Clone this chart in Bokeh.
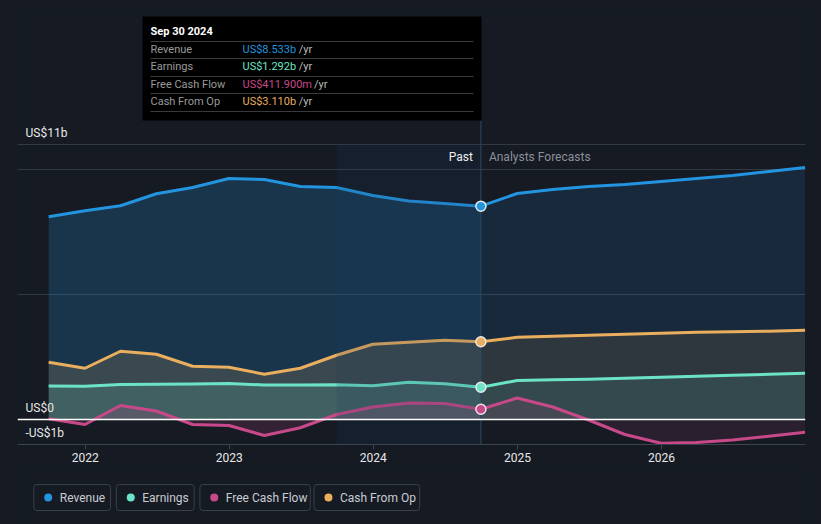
import pandas as pd
from bokeh.plotting import figure
from bokeh.layouts import column
from bokeh.models import Range1d, FixedTicker, Span, DatetimeTickFormatter
from bokeh.core.properties import value
from bokeh.embed import file_html
from bokeh.resources import INLINE

# ---------------- data (US$ billions) ----------------
past_dates = ["2021-09-30", "2021-12-31", "2022-03-31", "2022-06-30", "2022-09-30",
              "2022-12-31", "2023-03-31", "2023-06-30", "2023-09-30", "2023-12-31",
              "2024-03-31", "2024-06-30", "2024-09-30"]
forecast_dates = ["2024-09-30", "2024-12-31", "2025-03-31", "2025-06-30", "2025-09-30",
                  "2025-12-31", "2026-03-31", "2026-06-30", "2026-09-30", "2026-12-31"]

revenue_past = [8.11, 8.35, 8.55, 9.03, 9.28, 9.64, 9.60, 9.32, 9.28, 8.96, 8.74, 8.64, 8.533]
revenue_fc = [8.533, 9.04, 9.20, 9.32, 9.40, 9.52, 9.64, 9.76, 9.92, 10.08]

earnings_past = [1.34, 1.33, 1.40, 1.41, 1.42, 1.44, 1.38, 1.38, 1.39, 1.35, 1.49, 1.43, 1.292]
earnings_fc = [1.292, 1.56, 1.59, 1.61, 1.65, 1.69, 1.73, 1.77, 1.81, 1.85]

fcf_past = [0.03, -0.20, 0.56, 0.34, -0.20, -0.24, -0.64, -0.33, 0.20, 0.50, 0.66, 0.64, 0.4119]
fcf_fc = [0.4119, 0.86, 0.50, -0.02, -0.60, -0.95, -0.92, -0.82, -0.67, -0.51]

cfo_past = [2.29, 2.05, 2.73, 2.61, 2.13, 2.09, 1.81, 2.05, 2.57, 3.01, 3.09, 3.17, 3.110]
cfo_fc = [3.110, 3.29, 3.33, 3.37, 3.41, 3.45, 3.49, 3.51, 3.53, 3.57]

series_names = ["Revenue", "Earnings", "Free Cash Flow", "Cash From Op"]
year_ticks = ["2022-01-01", "2023-01-01", "2024-01-01", "2025-01-01", "2026-01-01"]
y_tick_values = [11, 0, -1]
y_tick_labels = ["US$11b", "US$0", "-US$1b"]
grid_values = [5, 10, 11]
tooltip_title = "Sep 30 2024"
band_start, band_end = "2023-09-30", "2024-09-30"

# ---------------- style ----------------
BG = "#151a23"
C_REV, C_EARN, C_FCF, C_CFO = "#2394df", "#6ce3c6", "#c8498a", "#e9ae5e"
FONT = "Roboto"

pdates = pd.to_datetime(past_dates)
fdates = pd.to_datetime(forecast_dates)
now = pdates[-1]
x_start = pd.Timestamp("2021-07-13")
x_end = pd.Timestamp("2027-01-01")
PX_PER_B = 25.0
Y0 = -1.0
FRAME_H = 436
y_end = Y0 + FRAME_H / PX_PER_B


def px_x(px):  # page pixel -> x (for annotation placement)
    return x_start + (x_end - x_start) * ((px - 17) / 788.0)


def px_y(py):  # page pixel -> y
    return (419 - py) / PX_PER_B


p = figure(width=821, height=470, x_axis_type="datetime",
           x_range=Range1d(x_start, x_end), y_range=Range1d(Y0, y_end),
           y_axis_location=None, output_backend="svg", toolbar_location=None,
           min_border_left=17, min_border_right=16, min_border_top=8, min_border_bottom=26,
           background_fill_color=BG, border_fill_color=BG, outline_line_color=None)

p.xgrid.visible = False
p.ygrid.ticker = FixedTicker(ticks=grid_values)
p.ygrid.grid_line_color = "#343a44"
p.ygrid.grid_line_width = 1

ax = p.xaxis[0]
ax.ticker = FixedTicker(ticks=[pd.Timestamp(t).value / 1e6 for t in year_ticks])
ax.formatter = DatetimeTickFormatter(years="%Y", months="%Y", days="%Y", hours="%Y")
ax.axis_line_color = "#3d434d"
ax.major_tick_line_color = "#3d434d"
ax.major_tick_out = 5
ax.major_tick_in = 0
ax.minor_tick_line_color = None
ax.major_label_text_color = "#e8e8e8"
ax.major_label_text_font = FONT
ax.major_label_text_font_size = "12px"
ax.major_label_standoff = 3

# areas
areas = [(revenue_past, revenue_fc, C_REV, 0.22, 0.13),
         (cfo_past, cfo_fc, C_CFO, 0.17, 0.11),
         (earnings_past, earnings_fc, C_EARN, 0.15, 0.11),
         (fcf_past, fcf_fc, C_FCF, 0.17, 0.12)]
for vp, vf, c, ap, af in areas:
    p.varea(x=pdates, y1=0, y2=vp, fill_color=c, fill_alpha=ap)
    p.varea(x=fdates, y1=0, y2=vf, fill_color=c, fill_alpha=af)

# zero line
p.add_layout(Span(location=0, dimension="width", line_color="#ffffff", line_width=1.5))

# lines
for vp, vf, c, _, _ in areas:
    p.line(pdates, vp, line_color=c, line_width=3, line_join="round")
    p.line(fdates, vf, line_color=c, line_width=3, line_join="round")

# last-year highlight band
p.quad(left=[pd.Timestamp(band_start)], right=[pd.Timestamp(band_end)], bottom=[Y0], top=[11],
       fill_color="#1c3d5c", fill_alpha=0.17, line_color=None)

# now line
p.segment(x0=[now], y0=[Y0], x1=[now], y1=[px_y(120)], line_color="#2e4a66", line_width=1)

# dots
p.scatter(x=[now] * 4, y=[revenue_past[-1], earnings_past[-1], fcf_past[-1], cfo_past[-1]],
          fill_color=[C_REV, C_EARN, C_FCF, C_CFO], size=10, line_color="#e8e8e8", line_width=1.5)

# Past / Analysts Forecasts
p.text(x=[now], y=[px_y(156)], text=["Past"], text_align="right", text_baseline="middle",
       x_offset=-8, text_color="#eeeeee", text_font=value(FONT), text_font_size="12px")
p.text(x=[now], y=[px_y(156)], text=["Analysts Forecasts"], text_align="left", text_baseline="middle",
       x_offset=8, text_color="#8b9099", text_font=value(FONT), text_font_size="12px")

# y labels
p.text(x=[x_start] * 3, y=y_tick_values, text=y_tick_labels, text_align="left", text_baseline="middle",
       x_offset=8, y_offset=-12, text_color="#e8e8e8", text_font=value(FONT), text_font_size="12px")

# tooltip
p.quad(left=[px_x(142)], right=[px_x(481)], bottom=[px_y(120)], top=[px_y(16)],
       fill_color="#000000", line_color=None)
p.text(x=[px_x(150)], y=[px_y(31)], text=[tooltip_title], text_baseline="middle",
       text_color="#ffffff", text_font=value(FONT), text_font_size="11px", text_font_style="bold")
sep_y = [41, 58, 76, 93, 111]
p.segment(x0=[px_x(150)] * 5, x1=[px_x(473)] * 5, y0=[px_y(v) for v in sep_y], y1=[px_y(v) for v in sep_y],
          line_color="#3a3a3a", line_width=1)


def fmt(v):
    return f"US${v:.3f}b" if abs(v) >= 1 else f"US${v * 1000:.3f}m"


CW = {"U": 7.2, "S": 6.6, "$": 6.1, ".": 2.8, "b": 6.1, "m": 9.2}


def tw(s):
    return sum(CW.get(ch, 6.1) for ch in s)


row_y = [49, 66, 84, 101]
vals = [revenue_past[-1], earnings_past[-1], fcf_past[-1], cfo_past[-1]]
cols = [C_REV, C_EARN, C_FCF, C_CFO]
p.text(x=[px_x(150)] * 4, y=[px_y(v) for v in row_y], text=series_names, text_baseline="middle",
       text_color="#9a9a9a", text_font=value(FONT), text_font_size="11px")
vtexts = [fmt(v) for v in vals]
p.text(x=[px_x(242)] * 4, y=[px_y(v) for v in row_y], text=vtexts, text_baseline="middle",
       text_color=cols, text_font=value(FONT), text_font_size="11px")
p.text(x=[px_x(242 + tw(t) + 3) for t in vtexts], y=[px_y(v) for v in row_y], text=["/yr"] * 4,
       text_baseline="middle", text_color="#bbbbbb", text_font=value(FONT), text_font_size="11px")

# ---------------- legend figure ----------------
lf = figure(width=821, height=54, x_range=Range1d(0, 821), y_range=Range1d(54, 0),
            x_axis_location=None, y_axis_location=None, output_backend="svg", toolbar_location=None,
            min_border=0, background_fill_color=BG, border_fill_color=BG, outline_line_color=None)
lf.xgrid.visible = False
lf.ygrid.visible = False
box_l = [17, 103, 190, 309]
box_r = [97, 184, 305, 419]
lf.quad(left=box_l, right=box_r, bottom=[40] * 4, top=[14] * 4, fill_color=None,
        line_color="#3a404a", line_width=1, border_radius=3)
lf.scatter(x=[b + 15 for b in box_l], y=[27] * 4, fill_color=cols, line_color=None, size=8)
lf.text(x=[b + 27 for b in box_l], y=[27] * 4, text=series_names, text_baseline="middle",
        text_color="#c8ccd2", text_font=value(FONT), text_font_size="12px")

layout = column(p, lf, spacing=0)
html = file_html(layout, INLINE)
html = html.replace("<head>", "<head><style>html,body{background:%s;overflow:hidden;}</style>" % BG, 1)
open("out.html", "w").write(html)
